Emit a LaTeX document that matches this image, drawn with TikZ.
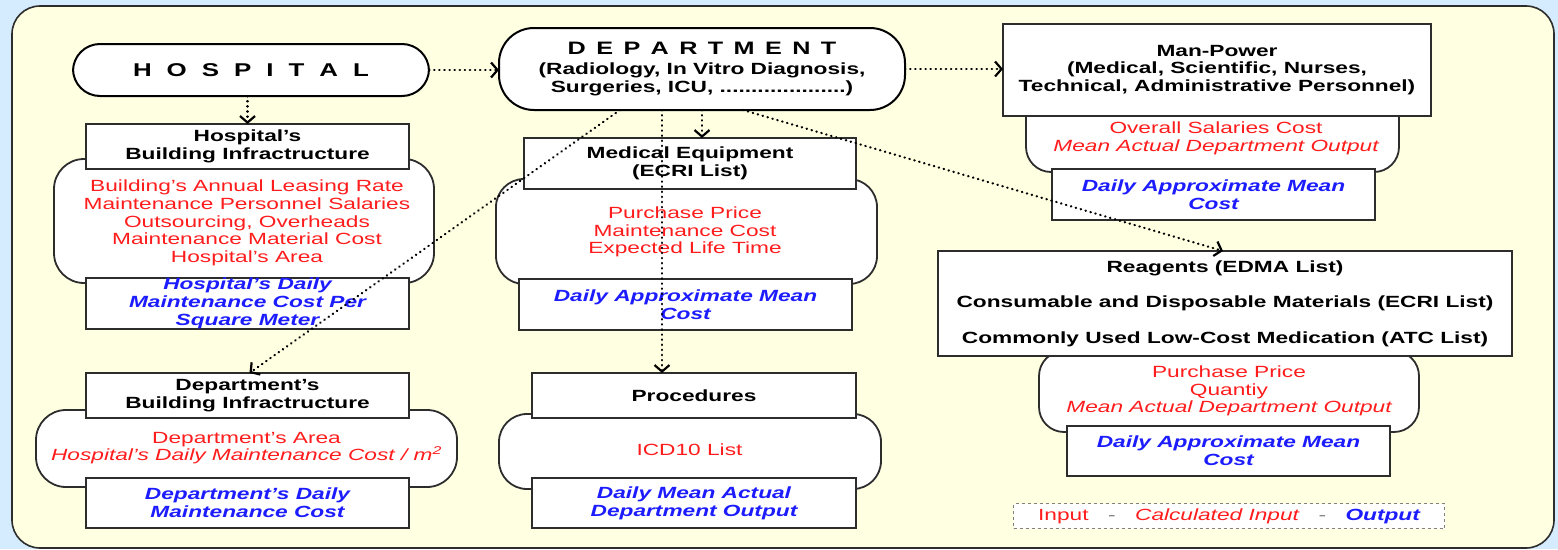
\documentclass[tikz,border=0pt]{standalone}
\usepackage{fontspec}
\setmainfont{Liberation Sans}[FakeStretch=1.4]
\usetikzlibrary{arrows.meta}
\definecolor{bgblue}{RGB}{212,236,254}
\definecolor{panel}{RGB}{255,255,226}
\definecolor{edge}{RGB}{45,45,45}
\definecolor{inred}{RGB}{255,28,28}
\definecolor{outblue}{RGB}{28,28,255}
\newcommand{\hdfont}{\fontsize{16.2}{17.7}\selectfont\bfseries}
\newcommand{\rdfont}{\fontsize{16.2}{17.7}\selectfont}
\newcommand{\blfont}{\fontsize{16.2}{17.7}\selectfont\bfseries\itshape}
\newcommand{\gapA}{\hspace{15pt}}
\newcommand{\gapB}{\hspace{10.4pt}}
\newcommand{\gapL}{\hspace{19.5pt}}
\begin{document}
\begin{tikzpicture}[x=1pt,y=-1pt,
  every node/.style={inner sep=0pt, outer sep=0pt},
  tbox/.style={draw=edge, line width=1.8pt, fill=white, rectangle, align=center, font=\hdfont, text=black},
  obox/.style={tbox, font=\blfont, text=outblue},
  bodybox/.style={draw=edge, line width=1.8pt, fill=white, rectangle},
  rtext/.style={align=center, font=\rdfont, text=inred},
  conn/.style={draw=black, line width=2.3pt, dash pattern=on 0.4pt off 4.7pt, line cap=round,
    -{Straight Barb[length=6.5pt,width=15pt,line width=2.2pt]}}
]
\useasboundingbox (0,0) rectangle (1558,549);
\fill[bgblue] (0,0) rectangle (1558,549);
\draw[fill=panel, draw=edge, line width=1.6pt, rounded corners=28pt] (12,6) rectangle (1554,548);

% top nodes
\node[tbox, rounded corners=27pt, minimum width=356pt, minimum height=52pt, line width=2pt, draw=black] (hosp) at (251,70)
  {\fontsize{18.5}{20}\selectfont\bfseries H\gapA O\gapA S\gapA P\gapA I\gapA T\gapA A\gapA L};
\node[tbox, rounded corners=35pt, minimum width=406pt, minimum height=82pt, line width=2pt, draw=black] (dept) at (702,69)
  {{\fontsize{18}{20}\selectfont\bfseries D\gapB E\gapB P\gapB A\gapB R\gapB T\gapB M\gapB E\gapB N\gapB T}\\[3pt]
   (Radiology, In Vitro Diagnosis,\\Surgeries, ICU, ....................)};

% Man-Power group
\node[bodybox, rounded corners=25pt, minimum width=373pt, minimum height=81pt] (mpb) at (1212.5,131.5) {};
\node[tbox, minimum width=428pt, minimum height=92pt] (mp) at (1217,70)
  {Man-Power\\(Medical, Scientific, Nurses,\\Technical, Administrative Personnel)};
\node[rtext] (mpbt) at (1216,138) {Overall Salaries Cost\\{\itshape Mean Actual Department Output}};
\node[obox, minimum width=323pt, minimum height=51pt] (mpo) at (1213.5,194.5) {Daily Approximate Mean\\Cost};

% Hospital's building
\node[bodybox, rounded corners=30pt, minimum width=380pt, minimum height=124pt] (hbb) at (244,221) {};
\node[tbox, minimum width=323pt, minimum height=45pt] (hbt) at (247.5,146.5) {Hospital's\\Building Infractructure};
\node[rtext] (hbbt) at (247,223) {Building's Annual Leasing Rate\\Maintenance Personnel Salaries\\Outsourcing, Overheads\\Maintenance Material Cost\\Hospital's Area};
\node[obox, minimum width=323pt, minimum height=51pt] (hbo) at (247.5,303.5) {Hospital's Daily\\Maintenance Cost Per\\Square Meter};

% Department's building
\node[bodybox, rounded corners=30pt, minimum width=421pt, minimum height=77pt] (dbb) at (246.5,448.5) {};
\node[tbox, minimum width=323pt, minimum height=45pt] (dbt) at (247.5,395.5) {Department's\\Building Infractructure};
\node[rtext] (dbbt) at (246.5,448) {Department's Area\\{\itshape Hospital's Daily Maintenance Cost / m\textsuperscript{2}}};
\node[obox, minimum width=323pt, minimum height=50pt] (dbo) at (247.5,503) {Department's Daily\\Maintenance Cost};

% Medical equipment
\node[bodybox, rounded corners=28pt, minimum width=381pt, minimum height=105pt] (meb) at (686.5,231.5) {};
\node[tbox, minimum width=332pt, minimum height=51pt] (met) at (690,163.5) {Medical Equipment\\(ECRI List)};
\node[rtext] (mebt) at (685,232) {Purchase Price\\Maintenance Cost\\Expected Life Time};
\node[obox, minimum width=333pt, minimum height=51pt] (meo) at (685.5,304.5) {Daily Approximate Mean\\Cost};

% Procedures
\node[bodybox, rounded corners=28pt, minimum width=382pt, minimum height=75pt] (prb) at (690,451.5) {};
\node[tbox, minimum width=324pt, minimum height=45pt] (prt) at (694,395.5) {Procedures};
\node[rtext] (prbt) at (689.5,450) {ICD10 List};
\node[obox, minimum width=324pt, minimum height=50pt] (pro) at (694,503) {Daily Mean Actual\\Department Output};

% Reagents
\node[bodybox, rounded corners=25pt, minimum width=380pt, minimum height=81pt] (reb) at (1229,391.5) {};
\node[tbox, minimum width=574pt, minimum height=105pt] (ret) at (1225,303.5)
  {Reagents (EDMA List)\\[17.8pt]Consumable and Disposable Materials (ECRI List)\\[17.8pt]Commonly Used Low-Cost Medication (ATC List)};
\node[rtext] (rebt) at (1229,391) {Purchase Price\\Quantiy\\{\itshape Mean Actual Department Output}};
\node[obox, minimum width=323pt, minimum height=50pt] (reo) at (1228.5,451) {Daily Approximate Mean\\Cost};

% legend
\node[draw=gray, line width=1.1pt, dash pattern=on 3pt off 3pt, fill=white, minimum width=431pt, minimum height=25pt, font=\rdfont] (legend) at (1229,516)
  {\textcolor{inred}{Input}\gapL\textcolor{gray}{-}\gapL\textcolor{inred}{\itshape Calculated Input}\gapL\textcolor{gray}{-}\gapL\textcolor{outblue}{\bfseries\itshape Output}};

% connectors
\draw[conn] (hosp.east) -- (hosp.east -| dept.west);
\draw[conn] (dept.east) -- (dept.east -| mp.west);
\draw[conn] (hbt.north |- hosp.south) -- (hbt.north);
\draw[conn] (dept.south) -- (dept.south |- met.north);
\draw[conn] ([xshift=-40pt]dept.south) -- ([xshift=-40pt]dept.south |- prt.north);
\draw[conn] ([xshift=-82pt]dept.south) -- ([xshift=2pt]dbt.north);
\draw[conn] ([xshift=41pt]dept.south) -- ([xshift=-2pt]ret.north);
\end{tikzpicture}
\end{document}
